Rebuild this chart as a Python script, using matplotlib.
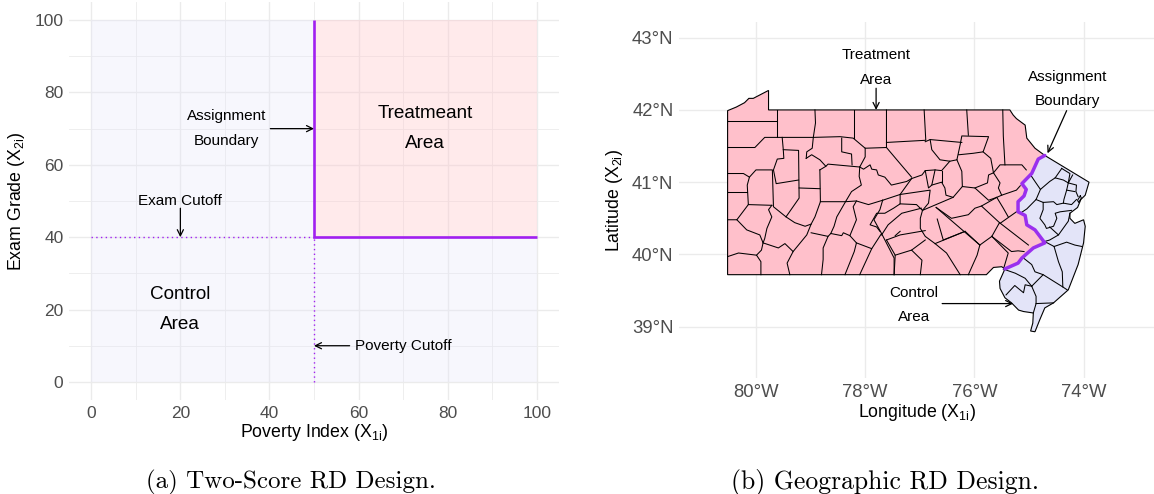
import matplotlib
matplotlib.use("Agg")
import matplotlib.pyplot as plt
from matplotlib.patches import Rectangle, Polygon

plt.rcParams['font.family'] = ['Liberation Sans', 'DejaVu Sans']
plt.rcParams['mathtext.fontset'] = 'custom'
plt.rcParams['mathtext.rm'] = 'Liberation Sans'
plt.rcParams['mathtext.it'] = 'Liberation Sans'
plt.rcParams['mathtext.default'] = 'rm'

# ==========================================
# DATA: two-score design
# ==========================================
poverty_cutoff = 50
exam_cutoff = 40
score_min = 0
score_max = 100
score_ticks = [0, 20, 40, 60, 80, 100]
score_minor = [10, 30, 50, 70, 90]

# ==========================================
# DATA: geographic design (lon, lat)
# ==========================================
lon_ticks = [-80, -78, -76, -74]
lat_ticks = [39, 40, 41, 42, 43]

boundary = [(-74.71, 41.37), (-74.83, 41.32), (-74.95, 41.12), (-75.13, 40.98), (-75.05, 40.90),
            (-75.09, 40.81), (-75.20, 40.73), (-75.20, 40.59), (-75.07, 40.54), (-75.04, 40.41),
            (-74.89, 40.34), (-74.71, 40.16), (-74.92, 40.09), (-75.13, 39.95), (-75.20, 39.88),
            (-75.44, 39.80)]

pa_north = [(-75.78, 39.72), (-80.52, 39.72), (-80.52, 41.99), (-80.36, 42.04), (-80.21, 42.10),
            (-80.13, 42.16), (-80.05, 42.16), (-79.77, 42.27), (-79.77, 42.00), (-75.35, 42.00),
            (-75.29, 41.93), (-75.23, 41.88), (-75.07, 41.79), (-75.04, 41.61), (-74.89, 41.47)]
pa_south = [(-75.50, 39.83), (-75.65, 39.82)]

nj_south = [(-75.54, 39.63), (-75.53, 39.53), (-75.44, 39.40), (-75.32, 39.33), (-75.19, 39.23),
            (-75.10, 39.21), (-74.92, 39.19), (-74.93, 39.05), (-74.97, 38.94), (-74.89, 38.93),
            (-74.80, 39.10), (-74.71, 39.26), (-74.55, 39.33), (-74.28, 39.51), (-74.10, 39.86),
            (-74.00, 40.16), (-73.97, 40.39), (-74.00, 40.48), (-74.16, 40.43), (-74.25, 40.50),
            (-74.25, 40.57), (-74.11, 40.65), (-74.05, 40.76), (-73.97, 40.82), (-73.90, 41.00)]

pa_lines = [
    [(-80.52, 41.85), (-79.62, 41.85)],
    [(-79.62, 42.00), (-79.62, 41.63)],
    [(-80.52, 41.48), (-80.02, 41.48), (-79.84, 41.62), (-78.95, 41.62), (-78.46, 41.63), (-78.22, 41.61),
     (-78.00, 41.47), (-77.61, 41.48)],
    [(-78.92, 42.00), (-78.91, 41.82), (-78.95, 41.62), (-78.97, 41.47), (-79.07, 41.42), (-79.08, 41.33)],
    [(-78.21, 42.00), (-78.21, 41.61)],
    [(-77.61, 42.00), (-77.61, 41.48), (-77.42, 41.31), (-77.15, 41.07)],
    [(-76.92, 42.00), (-76.89, 41.58), (-77.61, 41.55)],
    [(-79.52, 41.62), (-79.50, 41.45), (-79.49, 41.33), (-79.61, 41.32), (-79.68, 41.17), (-79.63, 40.98),
     (-79.22, 41.03)],
    [(-79.50, 41.45), (-79.22, 41.44), (-79.21, 40.78), (-79.45, 40.52), (-79.68, 40.66), (-79.70, 41.17),
     (-80.00, 41.17), (-80.12, 41.07), (-80.16, 40.96), (-80.14, 40.69), (-79.71, 40.68)],
    [(-80.52, 41.12), (-80.23, 41.12), (-80.12, 41.07)],
    [(-80.52, 40.86), (-80.16, 40.86)],
    [(-80.52, 40.48), (-80.35, 40.48), (-80.14, 40.69)],
    [(-80.52, 39.97), (-80.32, 40.02), (-79.99, 39.99), (-79.91, 39.90), (-79.91, 39.72)],
    [(-80.35, 40.48), (-80.17, 40.34), (-79.93, 40.27), (-79.87, 40.16), (-79.90, 40.06), (-79.99, 39.99)],
    [(-79.71, 40.68), (-79.77, 40.62), (-79.71, 40.52), (-79.80, 40.36), (-79.84, 40.22), (-79.87, 40.16)],
    [(-79.87, 40.16), (-79.59, 40.09), (-79.47, 40.15), (-79.32, 40.04), (-79.43, 39.88), (-79.38, 39.72)],
    [(-79.45, 40.52), (-79.29, 40.44), (-79.10, 40.39), (-78.99, 40.42)],
    [(-79.21, 40.92), (-78.83, 40.91)],
    [(-78.83, 41.17), (-78.82, 40.73), (-78.92, 40.52), (-78.99, 40.42), (-79.07, 40.27), (-79.32, 40.04)],
    [(-79.08, 41.33), (-78.98, 41.38), (-78.83, 41.31), (-78.72, 41.22), (-78.83, 41.17)],
    [(-78.72, 41.22), (-78.68, 41.25), (-78.10, 41.21), (-78.00, 41.35), (-78.00, 41.47)],
    [(-78.43, 41.61), (-78.43, 41.42), (-78.25, 41.39), (-78.24, 41.24)],
    [(-78.10, 41.21), (-78.03, 41.18), (-77.91, 41.24), (-77.88, 41.18), (-77.79, 41.17), (-77.76, 41.10),
     (-77.64, 41.07), (-77.52, 40.96), (-77.24, 41.01), (-77.15, 41.05)],
    [(-78.10, 41.21), (-78.11, 41.08), (-78.07, 40.96), (-78.25, 40.87), (-78.36, 40.73), (-78.52, 40.52),
     (-78.57, 40.39), (-78.63, 40.29), (-78.68, 40.25), (-78.99, 40.30)],
    [(-78.82, 40.73), (-78.36, 40.73), (-78.16, 40.74), (-77.94, 40.69), (-77.68, 40.75)],
    [(-78.68, 40.25), (-78.77, 40.09), (-78.77, 39.93), (-78.80, 39.72)],
    [(-78.63, 40.29), (-78.43, 40.26), (-78.40, 40.30), (-78.28, 40.26), (-78.16, 40.16), (-78.20, 40.04),
     (-78.37, 39.72)],
    [(-78.16, 40.74), (-78.22, 40.66), (-78.16, 40.48), (-78.28, 40.26)],
    [(-78.16, 40.16), (-77.88, 40.08), (-78.10, 39.72)],
    [(-77.88, 40.08), (-77.70, 40.29), (-77.47, 39.95), (-77.47, 39.72)],
    [(-77.68, 40.75), (-77.73, 40.62), (-77.84, 40.48), (-77.70, 40.29)],
    [(-76.90, 41.56), (-76.81, 41.59), (-76.78, 41.45), (-76.63, 41.31), (-76.45, 41.29), (-76.32, 41.31),
     (-76.26, 41.52), (-76.23, 41.64), (-75.74, 41.63), (-75.84, 41.42), (-76.02, 41.40), (-76.28, 41.38)],
    [(-76.81, 41.59), (-76.23, 41.55)],
    [(-76.14, 42.00), (-76.11, 41.65)],
    [(-75.48, 42.00), (-75.47, 41.64), (-75.44, 41.24)],
    [(-75.84, 41.42), (-75.70, 41.33), (-75.65, 41.13)],
    [(-76.32, 41.31), (-76.23, 41.15), (-76.22, 40.94), (-75.99, 40.92), (-75.76, 40.99), (-75.74, 41.10),
     (-75.65, 41.13), (-75.53, 41.24), (-75.13, 41.24), (-75.05, 41.17)],
    [(-75.65, 41.13), (-75.53, 40.99), (-75.56, 40.92), (-75.50, 40.82), (-75.23, 40.89), (-75.16, 40.95)],
    [(-75.99, 40.92), (-75.74, 40.75), (-75.59, 40.79), (-75.47, 40.64), (-75.38, 40.52)],
    [(-75.59, 40.79), (-75.50, 40.82)],
    [(-75.53, 40.43), (-75.23, 40.59)],
    [(-76.70, 40.65), (-76.42, 40.50), (-76.11, 40.55), (-75.99, 40.64), (-75.87, 40.67), (-75.59, 40.79)],
    [(-76.22, 40.94), (-76.39, 40.79), (-76.95, 40.61)],
    [(-76.70, 40.65), (-75.90, 40.13), (-75.68, 40.25), (-75.54, 40.44)],
    [(-75.87, 40.67), (-75.54, 40.44), (-75.01, 40.13)],
    [(-75.68, 40.25), (-75.32, 40.04), (-75.20, 40.05), (-75.09, 40.04)],
    [(-75.90, 40.13), (-75.95, 39.99), (-76.11, 39.72)],
    [(-75.68, 40.25), (-75.38, 40.02), (-75.47, 39.79)],
    [(-76.72, 40.15), (-76.17, 40.32), (-75.90, 40.13)],
    [(-76.68, 40.49), (-76.57, 40.20), (-76.17, 40.32)],
    [(-76.95, 40.61), (-76.99, 40.50), (-76.99, 40.36), (-76.90, 40.25), (-76.72, 40.15), (-76.51, 40.02),
     (-76.26, 39.72)],
    [(-77.61, 40.20), (-77.45, 39.99), (-77.47, 39.72)],
    [(-77.61, 40.20), (-77.36, 40.27), (-76.90, 40.33)],
    [(-77.36, 40.32), (-77.45, 40.26)],
    [(-77.45, 39.99), (-77.15, 40.06), (-76.96, 39.92), (-76.99, 39.72)],
    [(-77.15, 40.06), (-76.90, 40.20)],
    [(-77.70, 40.27), (-77.58, 40.41), (-77.33, 40.57), (-76.97, 40.64)],
    [(-77.36, 40.70), (-77.06, 40.69), (-76.95, 40.61)],
    [(-77.36, 40.83), (-77.36, 40.70), (-77.48, 40.64), (-77.64, 40.57), (-77.79, 40.57), (-77.91, 40.41),
     (-77.79, 40.38), (-77.73, 40.32)],
    [(-77.36, 40.83), (-76.81, 40.89), (-76.84, 40.71), (-76.95, 40.61)],
    [(-77.15, 41.05), (-77.36, 40.83), (-77.68, 40.75)],
    [(-77.15, 41.05), (-76.96, 41.10), (-76.90, 41.16), (-76.72, 41.17), (-76.60, 41.16), (-76.45, 41.29)],
    [(-76.90, 41.16), (-76.84, 40.92), (-76.78, 40.96), (-76.72, 41.17)],
    [(-76.78, 40.96), (-76.60, 41.00), (-76.54, 40.92), (-76.52, 40.82), (-76.39, 40.79)],
    [(-76.60, 41.16), (-76.60, 41.00)],
]

nj_lines = [
    [(-74.97, 41.10), (-74.89, 41.01), (-74.79, 40.90), (-74.62, 41.01), (-74.52, 41.06), (-74.40, 41.19)],
    [(-74.79, 40.90), (-74.87, 40.76), (-75.04, 40.63), (-75.16, 40.57)],
    [(-74.87, 40.76), (-74.74, 40.72), (-74.55, 40.73), (-74.49, 40.69), (-74.37, 40.71), (-74.22, 40.69),
     (-74.13, 40.76)],
    [(-74.52, 41.06), (-74.37, 41.03), (-74.28, 40.99), (-74.31, 40.89), (-74.36, 40.76), (-74.37, 40.71)],
    [(-74.40, 41.19), (-74.25, 41.12), (-74.28, 40.99)],
    [(-74.20, 41.10), (-74.28, 40.99), (-74.13, 40.96), (-74.14, 40.87), (-74.10, 40.80)],
    [(-74.31, 40.89), (-74.16, 40.87)],
    [(-74.74, 40.72), (-74.74, 40.62), (-74.80, 40.50), (-74.71, 40.41), (-74.68, 40.36), (-74.55, 40.39),
     (-74.49, 40.50), (-74.52, 40.57), (-74.43, 40.59), (-74.22, 40.61)],
    [(-74.62, 40.38), (-74.46, 40.27), (-74.28, 40.46), (-74.25, 40.57)],
    [(-74.71, 40.18), (-74.62, 40.20), (-74.46, 40.27)],
    [(-74.54, 40.11), (-74.31, 40.17), (-74.16, 40.13), (-74.03, 40.11)],
    [(-74.69, 40.17), (-74.54, 40.11), (-74.46, 39.90), (-74.39, 39.76), (-74.38, 39.55), (-74.30, 39.51)],
    [(-75.10, 39.95), (-74.95, 39.86), (-74.89, 39.76), (-74.74, 39.72), (-74.95, 39.56)],
    [(-74.74, 39.72), (-74.55, 39.63), (-74.38, 39.55)],
    [(-75.44, 39.79), (-75.25, 39.74), (-75.07, 39.67), (-74.95, 39.56)],
    [(-75.42, 39.44), (-75.26, 39.57), (-75.10, 39.47), (-75.07, 39.58), (-74.95, 39.56)],
    [(-74.95, 39.56), (-74.87, 39.42), (-74.87, 39.32), (-74.92, 39.19)],
    [(-74.87, 39.32), (-74.55, 39.33)],
    [(-74.06, 40.81), (-74.04, 40.78), (-74.09, 40.72), (-74.11, 40.75), (-74.06, 40.81)],
]

# ==========================================
# STYLE
# ==========================================
PURPLE = '#A020F0'
PINK = '#FFC0CB'
LAVENDER = '#E6E6FA'
GRID = '#EBEBEB'
TICK = '#4D4D4D'

W, H = 1154, 494
fig = plt.figure(figsize=(W / 100, H / 100), dpi=100)


def px_axes(x0, x1, y0, y1):
    # pixel box, y measured from the top of the picture
    return fig.add_axes([x0 / W, 1 - y1 / H, (x1 - x0) / W, (y1 - y0) / H])


def clean(ax, tick_size):
    for s in ax.spines.values():
        s.set_visible(False)
    ax.set_axisbelow(True)
    ax.tick_params(which='both', length=0, labelsize=tick_size, labelcolor=TICK, pad=4)
    ax.grid(True, which='major', color=GRID, linewidth=1.0)


def pointer(ax, tip, start):
    ax.annotate('', xy=tip, xytext=start,
                arrowprops=dict(arrowstyle='->', color='black', lw=0.9, shrinkA=0, shrinkB=0,
                                mutation_scale=11), zorder=8)


# ==========================================
# PANEL A
# ==========================================
ax1 = px_axes(69, 559, 2, 400)
clean(ax1, 12.5)
ax1.set_xlim(-5, 105)
ax1.set_ylim(-5, 105)
ax1.set_xticks(score_ticks)
ax1.set_yticks(score_ticks)
ax1.set_xticks(score_minor, minor=True)
ax1.set_yticks(score_minor, minor=True)
ax1.grid(True, which='minor', color=GRID, linewidth=0.6)

ax1.add_patch(Rectangle((score_min, score_min), poverty_cutoff, score_max, fc=LAVENDER, ec='none', alpha=0.3))
ax1.add_patch(Rectangle((poverty_cutoff, score_min), score_max - poverty_cutoff, exam_cutoff, fc=LAVENDER, ec='none',
                        alpha=0.3))
ax1.add_patch(Rectangle((poverty_cutoff, exam_cutoff), score_max - poverty_cutoff, score_max - exam_cutoff,
                        fc='#FFC8CC', ec='none', alpha=0.38))

ax1.plot([score_min, poverty_cutoff], [exam_cutoff, exam_cutoff], color=PURPLE, lw=1, ls=(0, (1, 2.4)), zorder=4)
ax1.plot([poverty_cutoff, poverty_cutoff], [score_min, exam_cutoff], color=PURPLE, lw=1, ls=(0, (1, 2.4)), zorder=4)
ax1.plot([poverty_cutoff, poverty_cutoff, score_max], [score_max, exam_cutoff, exam_cutoff], color=PURPLE, lw=1.9,
         solid_joinstyle='miter', solid_capstyle='butt', zorder=5)

ax1.text(30.3, 70, 'Assignment\nBoundary', ha='center', va='center', fontsize=11, linespacing=1.98)
pointer(ax1, (50, 70), (40.2, 70))
ax1.text(20, 50, 'Exam Cutoff', ha='center', va='center', fontsize=11)
pointer(ax1, (20, 40), (20, 48))
ax1.text(70, 10, 'Poverty Cutoff', ha='center', va='center', fontsize=11)
pointer(ax1, (50, 10), (58, 10))
ax1.text(75, 70, 'Treatmeant\nArea', ha='center', va='center', fontsize=13.6, linespacing=1.95)
ax1.text(20, 20, 'Control\nArea', ha='center', va='center', fontsize=13.6, linespacing=1.95)

ax1.set_xlabel(r'Poverty Index (X$_{\mathrm{1i}}$)', fontsize=12.8, labelpad=1)
ax1.set_ylabel(r'Exam Grade (X$_{\mathrm{2i}}$)', fontsize=12.8, labelpad=5)

# ==========================================
# PANEL B
# ==========================================
ax2 = px_axes(679, 1154, 22, 378)
clean(ax2, 13.3)
ax2.set_xlim(-81.41, -72.71)
ax2.set_ylim(38.29, 43.217)
ax2.set_xticks(lon_ticks)
ax2.set_yticks(lat_ticks)
ax2.set_xticklabels([f"{abs(v)}°W" for v in lon_ticks])
ax2.set_yticklabels([f"{v}°N" for v in lat_ticks])

pa_outline = pa_north + boundary + pa_south
nj_outline = boundary + nj_south
ax2.add_patch(Polygon(pa_outline, closed=True, fc=PINK, ec='black', lw=0.8, zorder=2))
ax2.add_patch(Polygon(nj_outline, closed=True, fc='#E3E4F8', ec='black', lw=0.8, zorder=2))
for line in pa_lines + nj_lines:
    ax2.plot([p[0] for p in line], [p[1] for p in line], color='black', lw=0.75, zorder=3)
ax2.plot([p[0] for p in boundary], [p[1] for p in boundary], color='#9A30EE', lw=2.5, zorder=4,
         solid_capstyle='round')

ax2.text(-77.80, 42.59, 'Treatment\nArea', ha='center', va='center', fontsize=11, linespacing=1.98)
pointer(ax2, (-77.8, 42.0), (-77.8, 42.30))
ax2.text(-74.30, 42.29, 'Assignment\nBoundary', ha='center', va='center', fontsize=11, linespacing=1.98)
pointer(ax2, (-74.66, 41.40), (-74.31, 41.99))
ax2.text(-77.11, 39.30, 'Control\nArea', ha='center', va='center', fontsize=11, linespacing=1.98)
pointer(ax2, (-75.29, 39.32), (-76.59, 39.32))

ax2.set_xlabel(r'Longitude (X$_{\mathrm{1i}}$)', fontsize=12.8, labelpad=1)
ax2.set_ylabel(r'Latitude (X$_{\mathrm{2i}}$)', fontsize=12.8, labelpad=5)

# ==========================================
# CAPTIONS
# ==========================================
fig.text(291 / W, 1 - 482 / H, '(a) Two-Score RD Design.', family='cmr10', fontsize=18, ha='center', va='center')
fig.text(885 / W, 1 - 482 / H, '(b) Geographic RD Design.', family='cmr10', fontsize=18.5, ha='center', va='center')

plt.savefig('out.png', dpi=100)
